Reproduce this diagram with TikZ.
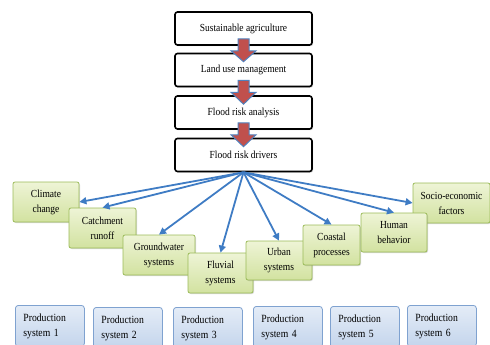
\documentclass[tikz,border=0pt]{standalone}
\usepackage{fontspec}
\setmainfont[FakeStretch=0.88]{Liberation Serif}
\usetikzlibrary{arrows.meta,shadows,calc}
\definecolor{arrowblue}{HTML}{3F7CC4}
\definecolor{gtop}{HTML}{EEF4D6}
\definecolor{gbot}{HTML}{D2E2A0}
\definecolor{gline}{HTML}{9BBB59}
\definecolor{btop}{HTML}{E4ECF7}
\definecolor{bbot}{HTML}{C4D5EC}
\definecolor{bline}{HTML}{7FA2D0}
\definecolor{redfill}{HTML}{C0504D}
\definecolor{redline}{HTML}{4F81BD}
\begin{document}
\begin{tikzpicture}[x=1pt,y=-1pt,
  topbox/.style={draw=black, line width=1.6pt, rounded corners=2.5pt, fill=white,
    minimum width=137pt, minimum height=33pt, inner sep=1pt,
    font=\fontsize{10.8}{13}\selectfont,
    drop shadow={shadow xshift=1.2pt, shadow yshift=-1.2pt, opacity=0.3}},
  greenbox/.style={draw=gline, line width=0.8pt, rounded corners=2pt,
    top color=gtop, bottom color=gbot, minimum height=40pt, inner sep=1pt,
    align=center, font=\fontsize{10.8}{15}\selectfont,
    drop shadow={shadow xshift=1pt, shadow yshift=-1pt, opacity=0.3}},
  prodbox/.style={draw=bline, line width=0.8pt, rounded corners=3pt,
    top color=btop, bottom color=bbot, anchor=north west,
    inner xsep=8pt, inner ysep=8pt, text width=53pt, align=left,
    font=\fontsize{11}{15}\selectfont},
  blockarrow/.style={fill=redfill, draw=redline, line width=1pt, line join=miter},
  fan/.style={draw=arrowblue, line width=1.8pt, -{Triangle[length=7pt,width=7pt]}}
]
\useasboundingbox (0,0) rectangle (490,345);

% top chain
\node[topbox] (sa) at (243.5,28.5) {Sustainable agriculture};
\node[topbox] (lu) at (243.5,70) {Land use management};
\node[topbox] (fa) at (243.5,112.5) {Flood risk analysis};
\node[topbox] (fd) at (243.5,155) {Flood risk drivers};

\foreach \a/\b in {sa/lu, lu/fa, fa/fd}{
  \draw[blockarrow] ($(\a.south)+(-5.5,-7)$) -- ($(\a.south)+(5.5,-7)$)
    -- ($(\a.south)+(5.5,5)$) -- ($(\a.south)+(12.5,5)$)
    -- ($(\b.north)+(0,9)$)
    -- ($(\a.south)+(-12.5,5)$) -- ($(\a.south)+(-5.5,5)$) -- cycle;
}

% green boxes
\node[greenbox, minimum width=77pt] (so) at (451.5,203) {Socio-economic\\factors};
\node[greenbox, minimum width=66pt] (cl) at (46,202) {Climate\\change};
\node[greenbox, minimum width=67pt] (ca) at (102.5,228) {Catchment\\runoff};
\node[greenbox, minimum width=72pt] (gw) at (159,255) {Groundwater\\systems};
\node[greenbox, minimum width=65pt] (fl) at (220.5,273) {Fluvial\\systems};
\node[greenbox, minimum width=66pt, minimum height=39pt] (ur) at (279,260.5) {Urban\\systems};
\node[greenbox, minimum width=57pt] (co) at (331.5,245) {Coastal\\processes};
\node[greenbox, minimum width=66pt, minimum height=39pt] (hu) at (394,232.5) {Human\\behavior};

% fan arrows
\draw[fan] (fd.south) -- (cl.east);
\draw[fan] (fd.south) -- (ca.north);
\draw[fan] (fd.south) -- (gw.north);
\draw[fan] (fd.south) -- (fl.north);
\draw[fan] (fd.south) -- (ur.north);
\draw[fan] (fd.south) -- (co.north);
\draw[fan] (fd.south) -- (hu.north);
\draw[fan] (fd.south) -- (so.west);

% production systems
\node[prodbox] (p1) at (15,305) {Production\\system 1};
\node[prodbox] (p2) at (93,307) {Production\\system 2};
\node[prodbox] (p3) at (173,307) {Production\\system 3};
\node[prodbox] (p4) at (253,306) {Production\\system 4};
\node[prodbox] (p5) at (330,306) {Production\\system 5};
\node[prodbox] (p6) at (407,305) {Production\\system 6};
\end{tikzpicture}
\end{document}
